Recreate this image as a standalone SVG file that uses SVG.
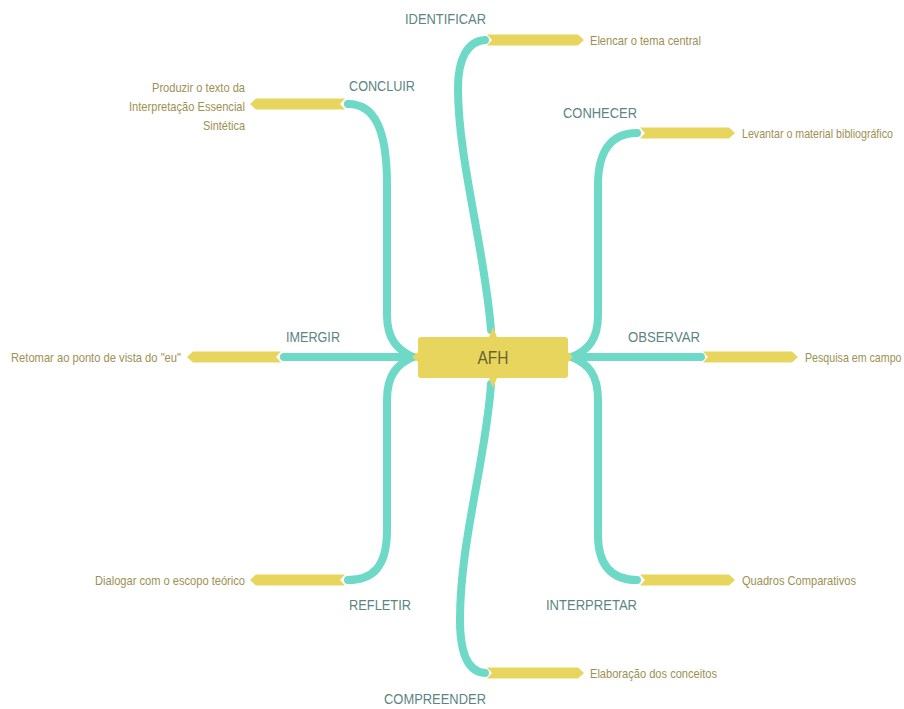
<svg xmlns="http://www.w3.org/2000/svg" width="904" height="709" viewBox="0 0 904 709">
  <style>
    .branch { fill: none; stroke: #6dd9c6; stroke-width: 8; stroke-linecap: round; stroke-linejoin: round; }
    .bar { fill: #e8d55e; }
    .lbl { font-family: "Liberation Sans", Arial, sans-serif; font-size: 15px; fill: #5b8583; }
    .leaf { font-family: "Liberation Sans", Arial, sans-serif; font-size: 13px; fill: #9c9152; }
    .center { font-family: "Liberation Sans", Arial, sans-serif; font-size: 19px; fill: #6a6330; }
  </style>
  <rect width="904" height="709" fill="#ffffff"/>
  <g id="connectors">
    <!-- teal branches -->
    <path class="branch" d="M491,330 C485,250 458,160 458,88 C458,58 468,41 485,40"/>
    <path class="branch" d="M572,357 C588,350 598,340 598,315 L598,185 C598,150 612,133 637,133"/>
    <path class="branch" d="M413,357 C398,350 387,340 387,315 L387,185 C387,130 375,104 348,104"/>
    <path class="branch" d="M413,357 L284,357"/>
    <path class="branch" d="M572,357 L701,357"/>
    <path class="branch" d="M413,357 C398,364 387,374 387,400 L387,530 C387,568 372,580 348,580"/>
    <path class="branch" d="M572,357 C588,364 598,374 598,400 L598,535 C598,568 614,580 637,580"/>
    <path class="branch" d="M491,384 C486,460 460,540 460,620 C460,655 469,672 485,673"/>
    <!-- yellow leaf bars -->
    <polygon class="bar" points="487,34.5 578,34.5 584,40 578,45.5 487,45.5 492,40"/>
    <polygon class="bar" points="640,127.5 729,127.5 735,133 729,138.5 640,138.5 645,133"/>
    <polygon class="bar" points="703,351.5 792,351.5 798,357 792,362.5 703,362.5 708,357"/>
    <polygon class="bar" points="640,574.5 729,574.5 735,580 729,585.5 640,585.5 645,580"/>
    <polygon class="bar" points="487,667.5 578,667.5 584,673 578,678.5 487,678.5 492,673"/>
    <polygon class="bar" points="345,98.5 256,98.5 250,104 256,109.5 345,109.5 340,104"/>
    <polygon class="bar" points="281,351.5 193,351.5 187,357 193,362.5 281,362.5 276,357"/>
    <polygon class="bar" points="345,574.5 256,574.5 250,580 256,585.5 345,585.5 340,580"/>
  </g>
  <g id="node-afh">
    <path d="M421,337 L489,337 L493,327 L497,337 L565,337 Q568,337 568,340 L568,352 L573,357 L568,362 L568,375 Q568,378 565,378 L497,378 L493,388 L489,378 L421,378 Q418,378 418,375 L418,362 L412,357 L418,352 L418,340 Q418,337 421,337 Z" fill="#e8d55e"/>
    <text class="center" x="493" y="364" text-anchor="middle" textLength="31" lengthAdjust="spacingAndGlyphs">AFH</text>
  </g>
  <g id="node-identificar">
    <text class="lbl" x="405" y="24" textLength="81" lengthAdjust="spacingAndGlyphs">IDENTIFICAR</text>
    <text class="leaf" x="590" y="44.5" textLength="111" lengthAdjust="spacingAndGlyphs">Elencar o tema central</text>
  </g>
  <g id="node-concluir">
    <text class="lbl" x="349" y="91" textLength="66" lengthAdjust="spacingAndGlyphs">CONCLUIR</text>
    <text class="leaf" x="245" y="92" text-anchor="end" textLength="93" lengthAdjust="spacingAndGlyphs">Produzir o texto da</text>
    <text class="leaf" x="245" y="111" text-anchor="end" textLength="116" lengthAdjust="spacingAndGlyphs">Interpretação Essencial</text>
    <text class="leaf" x="245" y="130" text-anchor="end" textLength="42" lengthAdjust="spacingAndGlyphs">Sintética</text>
  </g>
  <g id="node-conhecer">
    <text class="lbl" x="563" y="118" textLength="74" lengthAdjust="spacingAndGlyphs">CONHECER</text>
    <text class="leaf" transform="translate(742,138) scale(0.82,1)" x="0" y="0">Levantar o material bibliográfico</text>
  </g>
  <g id="node-imergir">
    <text class="lbl" x="286" y="342" textLength="54" lengthAdjust="spacingAndGlyphs">IMERGIR</text>
    <text class="leaf" x="181" y="361.5" text-anchor="end" textLength="170" lengthAdjust="spacingAndGlyphs">Retomar ao ponto de vista do "eu"</text>
  </g>
  <g id="node-observar">
    <text class="lbl" x="628" y="342" textLength="72" lengthAdjust="spacingAndGlyphs">OBSERVAR</text>
    <text class="leaf" transform="translate(805,361.5) scale(0.82,1)" x="0" y="0">Pesquisa em campo</text>
  </g>
  <g id="node-refletir">
    <text class="lbl" x="349" y="610" textLength="62" lengthAdjust="spacingAndGlyphs">REFLETIR</text>
    <text class="leaf" x="245" y="585" text-anchor="end" textLength="150" lengthAdjust="spacingAndGlyphs">Dialogar com o escopo teórico</text>
  </g>
  <g id="node-interpretar">
    <text class="lbl" x="546" y="610" textLength="91" lengthAdjust="spacingAndGlyphs">INTERPRETAR</text>
    <text class="leaf" x="742" y="585" textLength="114" lengthAdjust="spacingAndGlyphs">Quadros Comparativos</text>
  </g>
  <g id="node-compreender">
    <text class="lbl" x="384" y="704" textLength="102" lengthAdjust="spacingAndGlyphs">COMPREENDER</text>
    <text class="leaf" x="590" y="678" textLength="127" lengthAdjust="spacingAndGlyphs">Elaboração dos conceitos</text>
  </g>
</svg>
